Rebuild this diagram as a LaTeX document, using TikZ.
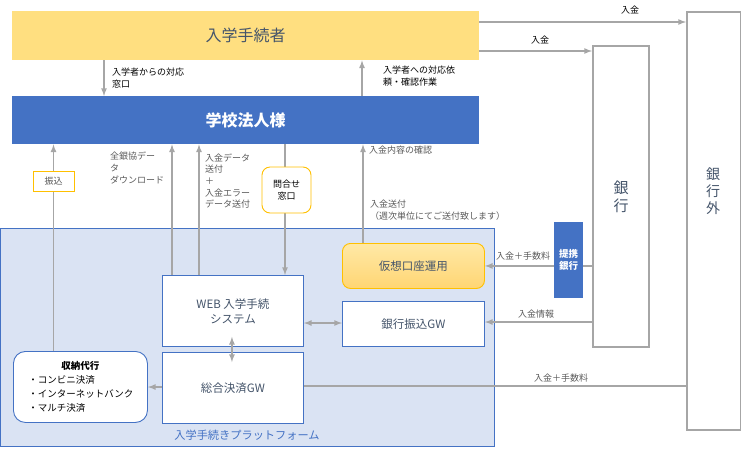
\documentclass[tikz,border=0pt]{standalone}
\usepackage{fontspec}
\setmainfont{Noto Sans CJK JP}
\usetikzlibrary{arrows, shapes, calc}

\definecolor{barYellow}{HTML}{FFDF80}
\definecolor{schoolBlue}{HTML}{4472C4}
\definecolor{platFill}{HTML}{DAE3F3}
\definecolor{lineGray}{HTML}{A6A6A6}
\definecolor{textDark}{HTML}{44546A}
\definecolor{textGray}{HTML}{595959}
\definecolor{frameOrange}{HTML}{FFC000}

\tikzset{
	flow/.style={draw=lineGray, line width=1.6pt},
	sysbox/.style={draw=schoolBlue, fill=white, line width=0.9pt, anchor=north west, inner sep=0pt, text=textDark, align=center, font=\fontsize{11.5}{15}\selectfont},
	bankbox/.style={draw=lineGray, fill=white, line width=2pt, anchor=north west, inner sep=0pt},
	tag/.style={inner sep=0pt, align=left, text=textGray, font=\fontsize{9}{11.7}\selectfont},
}

\begin{document}
\begin{tikzpicture}[x=1pt, y=-1pt, >=latex]
	\useasboundingbox (0,0) rectangle (741,451);

	% platform background
	\node[draw=schoolBlue, fill=platFill, line width=0.9pt, anchor=north west, minimum width=494, minimum height=218, inner sep=0pt] (platform) at (0,228) {};
	\node[text=schoolBlue, font=\fontsize{11.2}{13}\selectfont] (platlabel) at (247,435) {入学手続きプラットフォーム};

	% upper bars
	\node[fill=barYellow, anchor=north west, minimum width=467, minimum height=49, inner sep=0pt, text=textDark, font=\fontsize{16}{18}\selectfont] (applicant) at (12,11) {入学手続者};
	\node[fill=schoolBlue, anchor=north west, minimum width=467, minimum height=48, inner sep=0pt, text=white, font=\fontsize{16}{18}\selectfont\bfseries] (school) at (12,96) {学校法人様};

	% banks
	\node[bankbox, minimum width=56, minimum height=301, text=textDark, align=center, font=\fontsize{15}{18}\selectfont] (bank) at (592,45) {銀\\行};
	\node[bankbox, minimum width=54, minimum height=418] (bankout) at (686,11) {};
	\node[text=textDark, align=center, font=\fontsize{14}{17}\selectfont] (bankoutlabel) at (713,191) {銀\\行\\外};

	% systems
	\node[draw=frameOrange, top color=barYellow!70!white, bottom color=barYellow!90!orange, line width=0.9pt, rounded corners=8pt, anchor=north west, minimum width=142, minimum height=45, inner sep=0pt, text=textDark, font=\fontsize{11.5}{15}\selectfont] (vaccount) at (342,243) {仮想口座運用};
	\node[sysbox, minimum width=142, minimum height=45] (bankgw) at (342,301) {銀行振込GW};
	\node[sysbox, minimum width=141, minimum height=71] (web) at (162,275) {WEB 入学手続\\システム};
	\node[sysbox, minimum width=141, minimum height=71] (gw) at (162,352) {総合決済GW};
	\node[sysbox, rounded corners=12pt, text width=104pt, inner xsep=15pt, minimum height=71, align=left, text=black, font=\fontsize{9.5}{14}\selectfont] (agent) at (13,351) {\hfill\textbf{収納代行}\hfill\null\\・コンビニ決済\\・インターネットバンク\\・マルチ決済};

	% vertical flows
	\draw[flow,->] (applicant.south -| 104,0) -- (school.north -| 104,0);
	\draw[flow,->] (school.north -| 362,0) -- (applicant.south -| 362,0);
	\draw[flow,->] (agent.north -| 53.5,0) -- (school.south -| 53.5,0);
	\draw[flow,->] (web.north -| 172,0) -- (school.south -| 172,0);
	\draw[flow,->] (web.north -| 199,0) -- (school.south -| 199,0);
	\draw[flow,->] (school.south -| 285,0) -- (web.north -| 285,0);
	\draw[flow,->] (vaccount.north -| 363,0) -- (school.south -| 363,0);
	\draw[flow,<->] ($(web.south)+(-1,-10)$) -- ($(gw.north)+(-1,10)$);

	% horizontal flows
	\draw[flow,->] (applicant.east |- 0,22) -- (bankout.west |- 0,22);
	\draw[flow,->] (applicant.east |- 0,51) -- (bank.west |- 0,51);
	\draw[flow,->] (bank.west |- vaccount.east) -- (vaccount.east);
	\draw[flow,->] (bank.west |- 0,322) -- (bankgw.east |- 0,322);
	\draw[flow,<->] (web.east |- 0,323) -- (bankgw.west |- 0,323);
	\draw[flow] (bankout.west |- 0,386) -- (gw.east |- 0,386);
	\draw[flow,->] (gw.west |- 0,387) -- (agent.east |- 0,387);

	% boxes sitting on the flows
	\node[fill=schoolBlue, anchor=north west, minimum width=29, minimum height=76, inner sep=0pt, text=white, align=center, font=\fontsize{9.5}{12}\selectfont\bfseries] (partner) at (554,222) {提携\\銀行};
	\node[draw=frameOrange, fill=white, line width=0.9pt, minimum width=41, minimum height=20, inner sep=0pt, text=textGray, font=\fontsize{9}{11}\selectfont] (furikomi) at (53.5,181) {振込};
	\node[draw=frameOrange, fill=white, line width=0.9pt, rounded corners=8pt, minimum width=49, minimum height=46, inner sep=0pt, align=center, font=\fontsize{9}{12}\selectfont] (inquiry) at (286.5,190) {問合せ\\窓口};

	% labels
	\node[tag, anchor=west, text=black] (lblcontact) at (112,78) {入学者からの対応\\窓口};
	\node[tag, anchor=west, text=black] (lblrequest) at (383,76) {入学者への対応依\\頼・確認作業};
	\node[tag, anchor=west] (lbldownload) at (110,168) {全銀協デー\\タ\\ダウンロード};
	\node[tag, anchor=west] (lblsend) at (205,181) {入金データ\\送付\\＋\\入金エラー\\データ送付};
	\node[tag, anchor=west] (lblcheck) at (369,150) {入金内容の確認};
	\node[tag, anchor=west] (lblweekly) at (370,210) {入金送付\\（週次単位にてご送付致します）};
	\node[tag, text=black] (lblpay1) at (630,10) {入金};
	\node[tag, text=black] (lblpay2) at (540,40) {入金};
	\node[tag] (lblfee1) at (523,256) {入金＋手数料};
	\node[tag] (lblinfo) at (536,314) {入金情報};
	\node[tag] (lblfee2) at (561,378) {入金＋手数料};
\end{tikzpicture}
\end{document}
